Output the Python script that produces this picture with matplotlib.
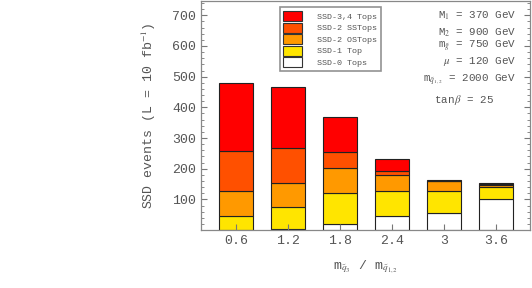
import numpy as np
import matplotlib.pyplot as plt
from matplotlib.patches import Patch

plt.rcParams['font.family'] = ['Liberation Mono', 'DejaVu Sans']
plt.rcParams['mathtext.fontset'] = 'stix'

# data (stack segments, bottom to top)
ratios = [0.6, 1.2, 1.8, 2.4, 3.0, 3.6]
tick_labels = ['0.6', '1.2', '1.8', '2.4', '3', '3.6']
ssd0 = [0, 2, 20, 45, 55, 101]
ssd1 = [46, 73, 100, 83, 71, 38]
ssd2_os = [83, 78, 83, 52, 33, 7]
ssd2_ss = [130, 113, 50, 13, 2, 4]
ssd34 = [221, 201, 114, 38, 2, 2]

series = [ssd0, ssd1, ssd2_os, ssd2_ss, ssd34]
names = ['SSD-0 Tops', 'SSD-1 Top', 'SSD-2 OSTops', 'SSD-2 SSTops', 'SSD-3,4 Tops']
colors = ['#ffffff', '#ffe500', '#ff9900', '#ff5000', '#ff0000']

txt = '#555555'

fig = plt.figure(figsize=(5.32, 2.88), dpi=100)
ax = fig.add_axes([0.378, 0.201, 0.618, 0.796])

bottom = np.zeros(len(ratios))
for vals, c in zip(series, colors):
    ax.bar(ratios, vals, width=0.39, bottom=bottom, color=c,
           edgecolor='#222222', linewidth=0.8)
    bottom += np.array(vals)

ax.set_xlim(0.196, 3.99)
ax.set_ylim(0, 747)
ax.set_xticks(ratios)
ax.set_xticklabels(tick_labels)
ax.set_yticks([100, 200, 300, 400, 500, 600, 700])
ax.set_yticks(np.arange(0, 747, 20), minor=True)
ax.tick_params(axis='both', direction='in', colors='#777777', labelcolor=txt,
               labelsize=9.5, right=True, top=False, length=4)
ax.tick_params(axis='y', which='minor', direction='in', right=True, length=2, colors='#777777')
for s in ax.spines.values():
    s.set_color('#888888')
    s.set_linewidth(0.9)

ax.set_ylabel(r'SSD events (L = 10 fb$^{-1}$)', color=txt, fontsize=9.5, labelpad=10)
ax.set_xlabel(r'm$_{\tilde{q}_3}$ / m$_{\tilde{q}_{1,2}}$', color=txt, fontsize=9.5, labelpad=8)

# legend
handles = [Patch(facecolor=c, edgecolor='#333333', linewidth=0.8) for c in colors][::-1]
leg = ax.legend(handles, names[::-1], loc='upper left', bbox_to_anchor=(0.226, 0.99),
                fontsize=6, frameon=True, fancybox=False, edgecolor='#777777',
                handlelength=2.2, handleheight=1.45, handletextpad=1.9,
                labelspacing=0.2, borderpad=0.45, labelcolor=txt)
leg.get_frame().set_linewidth(1.2)

# parameter annotations
params = [r'M$_1$ = 370 GeV', r'M$_2$ = 900 GeV', r'm$_{\tilde{g}}$ = 750 GeV',
          r'$\mu$ = 120 GeV', r'm$_{\tilde{q}_{1,2}}$ = 2000 GeV', r'tan$\,\beta$ = 25']
ys = [0.934, 0.860, 0.799, 0.734, 0.655, 0.568]
for p, y in zip(params, ys):
    ha = 'right'
    x = 0.958
    if p.startswith('tan'):
        ha, x = 'center', 0.80
    ax.text(x, y, p, transform=ax.transAxes, ha=ha, va='center',
            fontsize=7.8, color=txt)

fig.savefig('out.png', dpi=100)
